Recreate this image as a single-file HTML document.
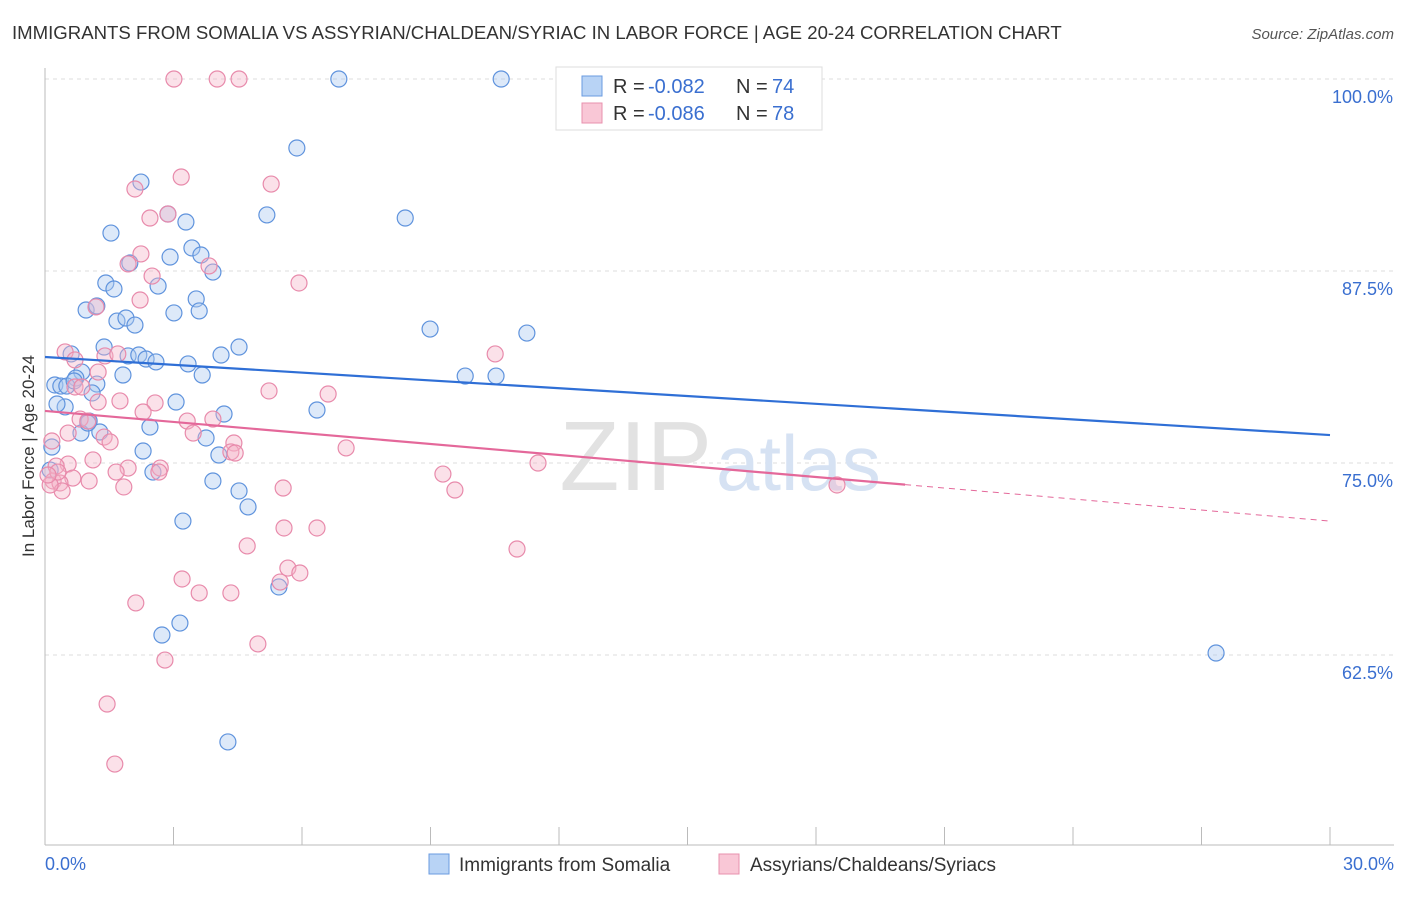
<!DOCTYPE html>
<html><head><meta charset="utf-8"><style>
body{margin:0;background:#fff;font-family:"Liberation Sans",sans-serif;}
svg text{font-family:"Liberation Sans",sans-serif;}
</style></head><body>
<svg id="chart" width="1406" height="892" xmlns="http://www.w3.org/2000/svg">
<text x="12" y="39" font-size="18.6" fill="#333">IMMIGRANTS FROM SOMALIA VS ASSYRIAN/CHALDEAN/SYRIAC IN LABOR FORCE | AGE 20-24 CORRELATION CHART</text>
<text x="1394" y="39" font-size="15" fill="#555" font-style="italic" text-anchor="end">Source: ZipAtlas.com</text>
<g id="grid"></g>
<text x="712" y="490" font-size="98" fill="#e2e2e2" text-anchor="end" font-family="Liberation Serif">ZIP</text>
<text x="716" y="490" font-size="78" fill="#d6e2f3">atlas</text>
<g id="pts"></g>
<g id="lines"></g>
<text x="34" y="456" font-size="17" fill="#333" text-anchor="middle" transform="rotate(-90 34 456)">In Labor Force | Age 20-24</text>
<text x="45" y="870" font-size="18" fill="#3a6fd0">0.0%</text>
<text x="1394" y="870" font-size="18" fill="#3a6fd0" text-anchor="end">30.0%</text>
<g>
<rect x="556" y="67" width="266" height="63" fill="#fff" stroke="#ddd"/>
<rect x="582" y="76" width="20" height="20" fill="#b8d3f5" stroke="#6a9be0"/>
<rect x="582" y="103" width="20" height="20" fill="#f9c7d6" stroke="#e890ae"/>
<g font-size="20" fill="#333">
<text x="613" y="93">R =</text><text x="648" y="93" fill="#3a6fd0">-0.082</text><text x="736" y="93">N =</text><text x="772" y="93" fill="#3a6fd0">74</text></g>
<g font-size="20" fill="#333">
<text x="613" y="120">R =</text><text x="648" y="120" fill="#3a6fd0">-0.086</text><text x="736" y="120">N =</text><text x="772" y="120" fill="#3a6fd0">78</text></g>
</g>
<g>
<rect x="429" y="854" width="20" height="20" fill="#b8d3f5" stroke="#6a9be0"/>
<text x="459" y="871" font-size="19" fill="#333">Immigrants from Somalia</text>
<rect x="719" y="854" width="20" height="20" fill="#f9c7d6" stroke="#e890ae"/>
<text x="750" y="871" font-size="19" fill="#333">Assyrians/Chaldeans/Syriacs</text>
</g>
</svg>
<script>
const yTicks=[100,87.5,75,62.5];
const yTickLabels=["100.0%","87.5%","75.0%","62.5%"];
const xTicks=[0,3,6,9,12,15,18,21,24,27,30];
const blueX=[6.86,10.65,5.88,2.24,5.18,8.41,2.87,3.29,1.54,3.43,2.92,3.64,1.98,3.92,1.42,1.61,2.64,3.53,3.01,3.60,0.96,1.21,1.68,1.89,2.10,8.99,11.25,4.53,1.38,4.11,0.61,1.94,2.19,2.36,2.59,3.34,1.82,3.67,9.81,10.53,0.86,0.72,0.23,0.37,0.51,1.21,0.68,0.47,0.28,1.10,3.06,6.35,4.18,1.03,2.45,1.28,0.84,3.76,0.16,2.29,4.06,2.52,3.92,4.53,4.74,3.22,5.46,3.15,2.73,27.34,4.27,0.12,1.00];
const blueY=[100,100,95.51,93.29,91.15,90.95,91.21,90.69,89.97,89.0,88.41,88.54,88.02,87.43,86.72,86.33,86.52,85.68,84.77,84.90,84.96,85.22,84.24,84.44,83.98,83.72,83.46,82.55,82.55,82.03,82.10,81.97,82.03,81.77,81.58,81.45,80.73,80.73,80.66,80.66,80.92,80.53,80.08,80.01,80.01,80.14,80.34,78.65,78.84,79.56,78.97,78.45,78.19,77.73,77.34,77.02,76.95,76.63,76.04,75.78,75.52,74.41,73.83,73.18,72.14,71.22,66.93,64.58,63.80,62.63,56.84,74.54,77.60];
const pinkX=[3.01,4.02,4.53,3.18,5.28,2.10,2.87,2.45,2.24,1.94,3.83,2.50,5.93,2.22,1.19,0.47,1.40,1.70,0.70,10.51,1.24,0.70,0.86,5.23,6.61,1.75,1.24,2.57,2.29,0.82,1.00,3.32,3.92,3.46,0.54,1.38,1.52,4.41,0.16,7.03,4.34,1.12,0.54,0.26,2.69,1.94,1.66,9.29,11.51,0.65,1.03,0.19,0.35,1.84,5.56,9.57,0.40,5.58,6.35,4.72,11.02,5.67,5.95,3.20,5.49,3.60,4.34,2.12,2.80,4.97,1.45,1.63,18.49,0.12,0.30,2.66,4.44,0.07];
const pinkY=[100,100,100,93.62,93.16,92.84,91.21,90.95,88.61,87.96,87.83,87.17,86.72,85.61,85.16,82.23,81.97,82.10,81.71,82.10,80.92,79.95,79.95,79.69,79.49,79.04,78.97,78.91,78.32,77.86,77.73,77.73,77.86,76.95,76.95,76.69,76.37,76.30,76.43,75.98,75.72,75.20,74.93,74.80,74.67,74.67,74.41,74.28,75.0,74.02,73.83,73.83,73.70,73.44,73.37,73.24,73.18,70.77,70.77,69.60,69.40,68.16,67.84,67.45,67.25,66.54,66.54,65.89,62.17,63.22,59.31,55.40,73.57,73.57,74.41,74.41,75.65,74.22];
const blueTrend=[81.9,76.82];
const pinkTrend=[78.39,71.22];
const pinkSolidEnd=[20.08];
const NS="http://www.w3.org/2000/svg";
const X0=45,X1=1330,Y100=79,PX=15.36;
function sx(v){return X0+v/30*(X1-X0);}
function sy(v){return Y100+(100-v)*PX;}
function mk(t,a,p){const e=document.createElementNS(NS,t);for(const k in a)e.setAttribute(k,a[k]);p.appendChild(e);return e;}
const grid=document.getElementById('grid');
yTicks.forEach((t,i)=>{
 const l=mk('line',{x1:X0,x2:1394,y1:sy(t),y2:sy(t),stroke:'#ddd','stroke-dasharray':'4 4'},grid);
 
 
 const tx=mk('text',{x:1393,y:sy(t)+24,'font-size':18,fill:'#3a6fd0','text-anchor':'end'},grid);
 tx.textContent=yTickLabels[i];
 
 
});
const ax=mk('line',{x1:X0,x2:X0,y1:68,y2:845,stroke:'#bbb'},grid);


const bx=mk('line',{x1:X0,x2:1394,y1:845,y2:845,stroke:'#bbb'},grid);


xTicks.forEach(t=>{
 const l=mk('line',{x1:sx(t),x2:sx(t),y1:827,y2:845,stroke:'#bbb'},grid);
 
 
});
const pts=document.getElementById('pts');
function dots(xs,ys,fill,stroke,name){
 xs.forEach((x,i)=>{
  const c=mk('circle',{cx:sx(x),cy:sy(ys[i]),r:8,fill:fill,'fill-opacity':0.4,stroke:stroke,'stroke-width':1.2},pts);
  
  
 });
}
dots(blueX,blueY,'#a9c8f0','#5f93dd','somalia-point');
dots(pinkX,pinkY,'#f5b3c8','#e88aab','assyrian-point');
const lines=document.getElementById('lines');
const bl=mk('line',{x1:sx(0),y1:sy(blueTrend[0]),x2:sx(30),y2:sy(blueTrend[1]),stroke:'#2f6fd6','stroke-width':2.2},lines);


const pyAt=x=>pinkTrend[0]+(pinkTrend[1]-pinkTrend[0])*x/30;
const pl=mk('line',{x1:sx(0),y1:sy(pinkTrend[0]),x2:sx(pinkSolidEnd[0]),y2:sy(pyAt(pinkSolidEnd[0])),stroke:'#e4689a','stroke-width':2.2},lines);


const pd=mk('line',{x1:sx(pinkSolidEnd[0]),y1:sy(pyAt(pinkSolidEnd[0])),x2:sx(30),y2:sy(pinkTrend[1]),stroke:'#e4689a','stroke-width':1,'stroke-dasharray':'6 5'},lines);


</script>
</body></html>
